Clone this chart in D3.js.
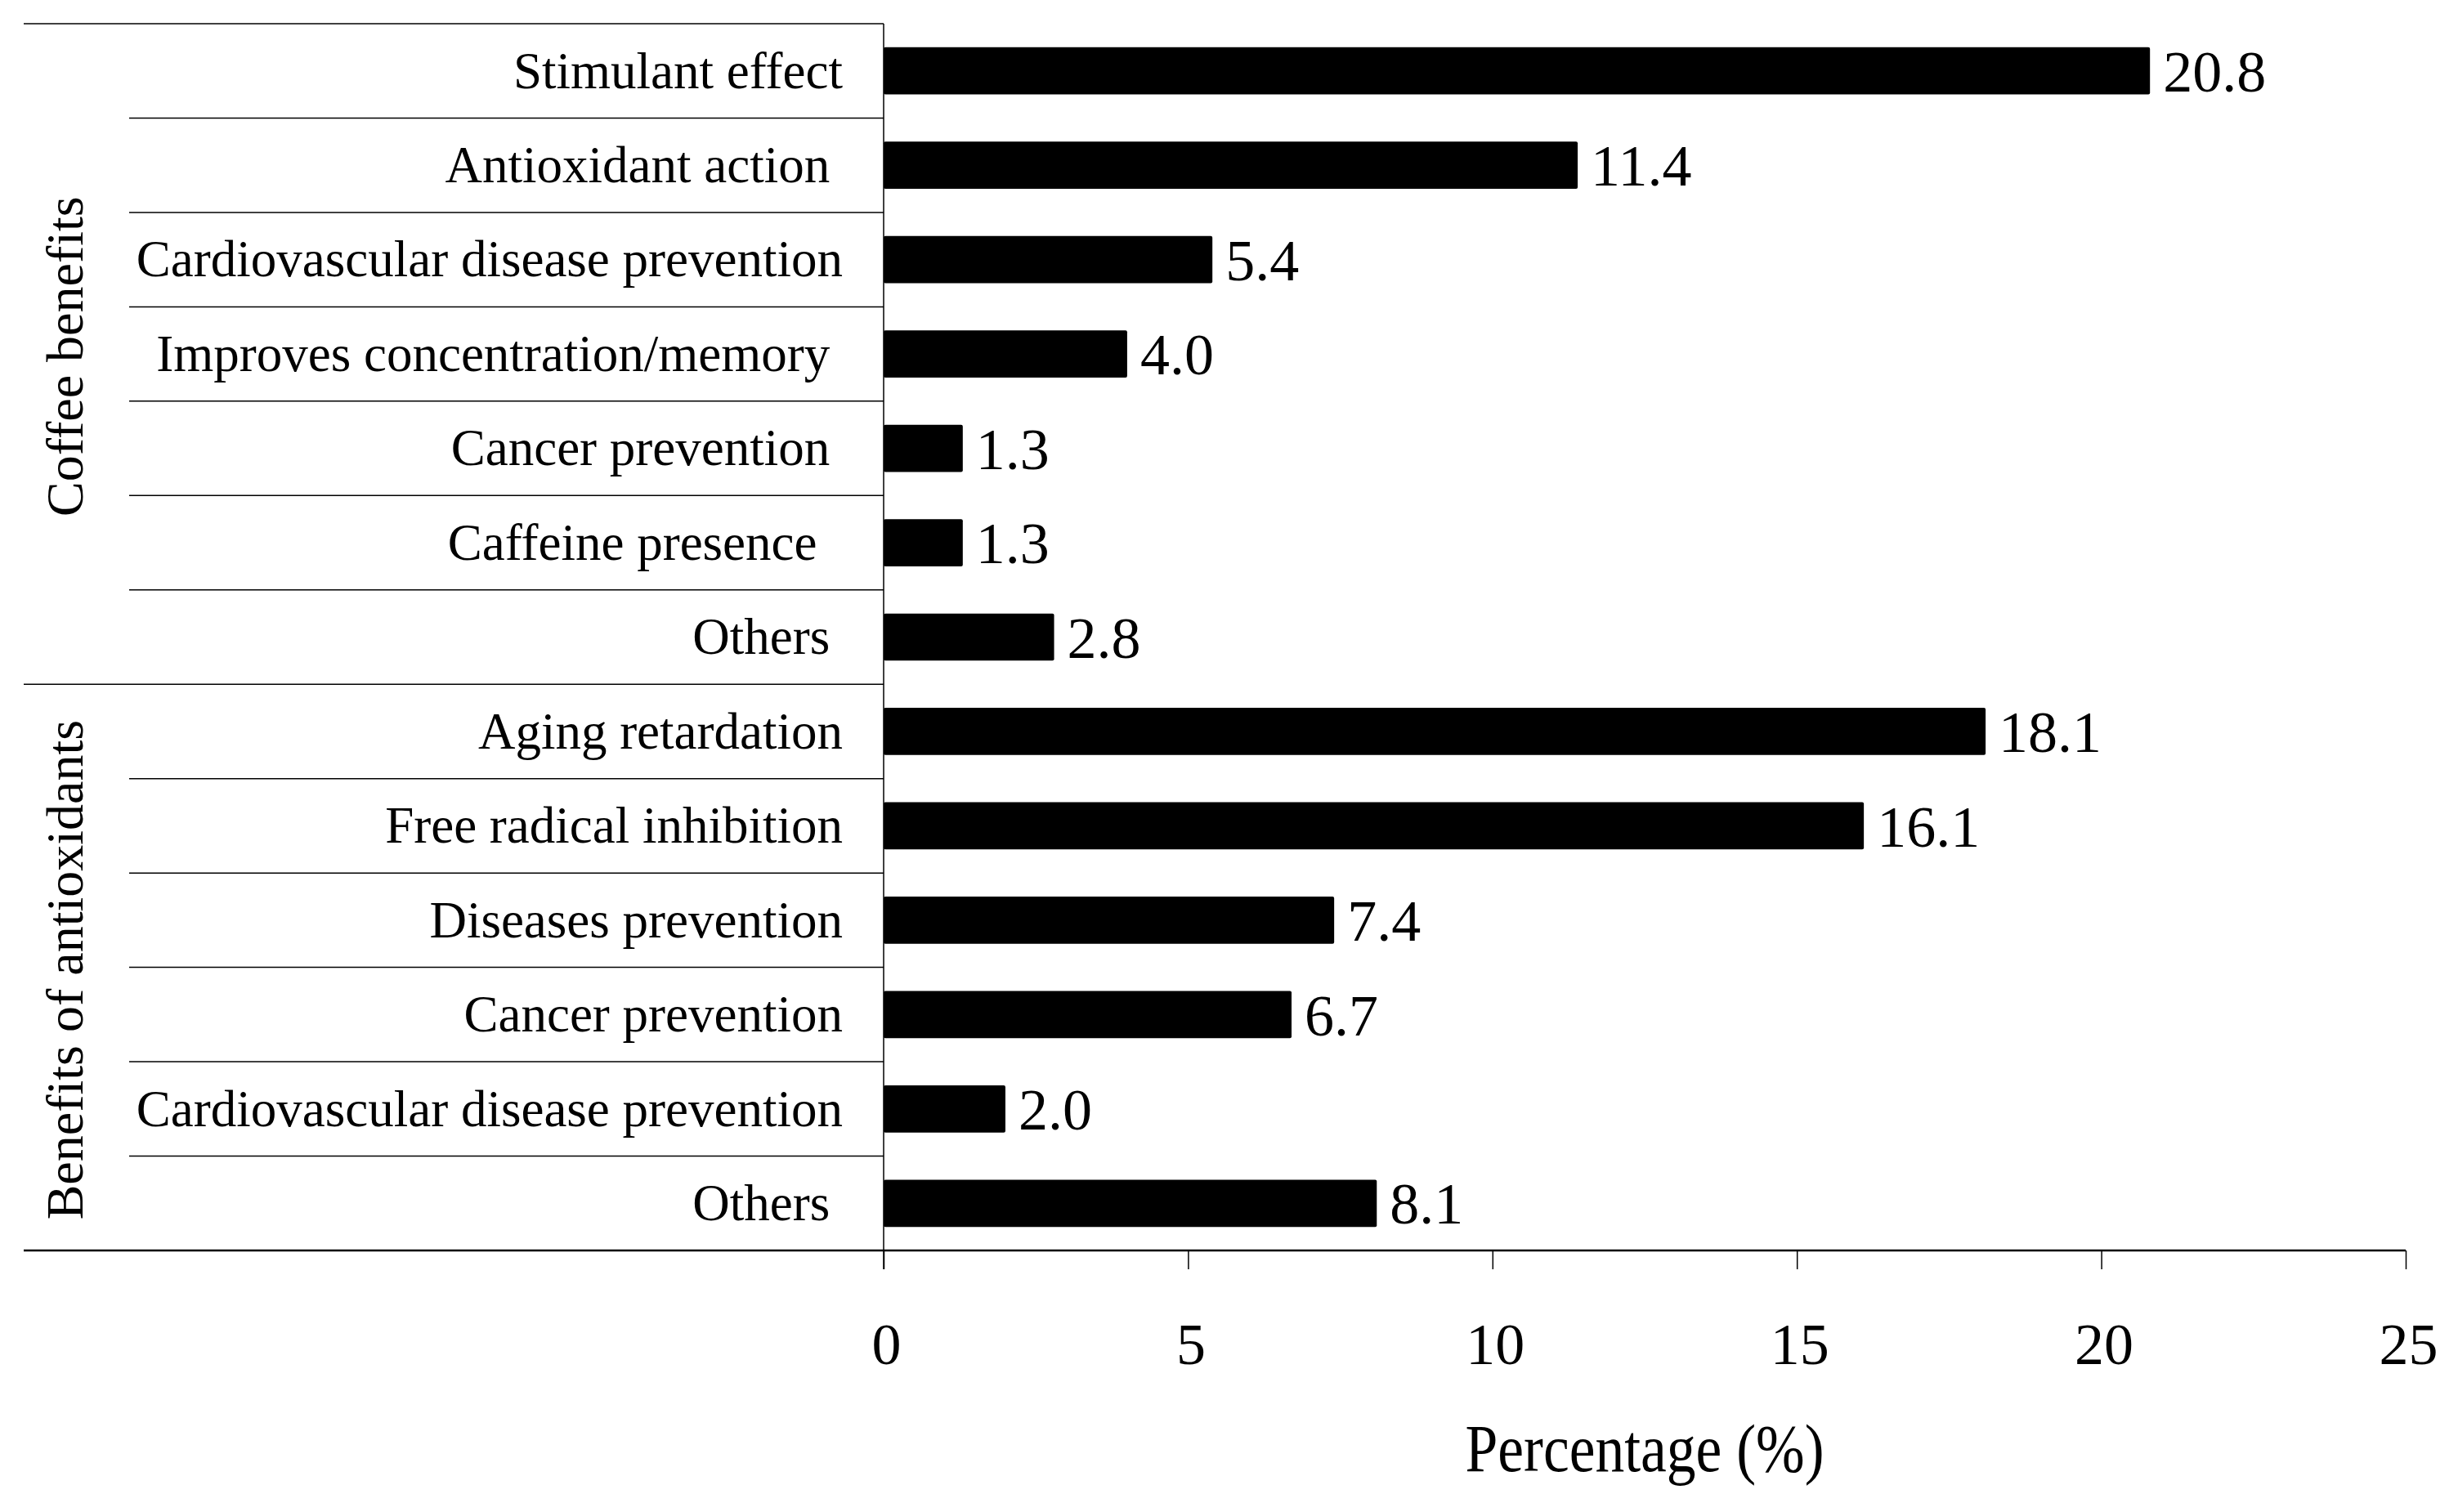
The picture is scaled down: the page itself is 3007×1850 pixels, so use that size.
<!DOCTYPE html>
<html>
<head>
<meta charset="utf-8">
<script src="https://cdn.jsdelivr.net/npm/d3@7"></script>
<style>
  body { margin: 0; background: #fff; }
  text { font-family: "Liberation Serif", "Times New Roman", serif; fill: #000; white-space: pre; }
</style>
</head>
<body>
<svg id="chart" width="3007" height="1850"></svg>
<script>
// group names (left, rotated)
const groups = ["Coffee benefits", "Benefits of antioxidants"];

// categories, top to bottom (trailing spaces are kept as in the source)
const coffeeLabels = [
  "Stimulant effect",
  "Antioxidant action ",
  "Cardiovascular disease prevention",
  "Improves concentration/memory ",
  "Cancer prevention ",
  "Caffeine presence  ",
  "Others "
];
const coffeeValues = [20.8, 11.4, 5.4, 4.0, 1.3, 1.3, 2.8];

const antioxLabels = [
  "Aging retardation",
  "Free radical inhibition",
  "Diseases prevention",
  "Cancer prevention",
  "Cardiovascular disease prevention",
  "Others "
];
const antioxValues = [18.1, 16.1, 7.4, 6.7, 2.0, 8.1];

const xTicks = [0, 5, 10, 15, 20, 25];
const xTitle = "Percentage (%)";

// build rows
const rows = [];
coffeeLabels.forEach((l, i) => rows.push({ label: l, value: coffeeValues[i], group: 0 }));
antioxLabels.forEach((l, i) => rows.push({ label: l, value: antioxValues[i], group: 1 }));

const svg = d3.select("#chart");

// layout
const xLeft = 29;       // left edge of outer lines
const sepLeft = 158;    // left edge of row separators
const x0 = 1081;        // value axis zero
const xEnd = 2943;      // 25
const yTop = 29;
const yBottom = 1530;

const x = d3.scaleLinear().domain([0, 25]).range([x0, xEnd]);
const y = d3.scaleBand()
  .domain(d3.range(rows.length))
  .range([yTop, yBottom])
  .paddingInner(0.5)
  .paddingOuter(0.25);

const step = y.step();
const rowTop = i => yTop + i * step;

// top line over the label area
svg.append("line")
  .attr("x1", xLeft).attr("x2", x0)
  .attr("y1", yTop).attr("y2", yTop)
  .attr("stroke", "#000").attr("stroke-width", 1.5);

// separators between rows
d3.range(1, rows.length).forEach(i => {
  const isGroup = rows[i].group !== rows[i - 1].group;
  svg.append("line")
    .attr("x1", isGroup ? xLeft : sepLeft).attr("x2", x0)
    .attr("y1", rowTop(i)).attr("y2", rowTop(i))
    .attr("stroke", "#000").attr("stroke-width", 1.5);
});

// bars
svg.append("g").selectAll("rect")
  .data(rows)
  .join("rect")
  .attr("x", x(0))
  .attr("y", (d, i) => y(i))
  .attr("width", d => x(d.value) - x(0))
  .attr("height", y.bandwidth())
  .attr("rx", 2)
  .attr("fill", "#000");

// value labels
svg.append("g").selectAll("text")
  .data(rows)
  .join("text")
  .attr("x", d => x(d.value) + 16)
  .attr("y", (d, i) => y(i) + y.bandwidth() / 2)
  .attr("dy", "0.35em")
  .attr("font-size", 72)
  .text(d => d.value.toFixed(1));

// category labels
svg.append("g").selectAll("text")
  .data(rows)
  .join("text")
  .attr("x", 1031)
  .attr("y", (d, i) => y(i) + y.bandwidth() / 2)
  .attr("dy", "0.33em")
  .attr("text-anchor", "end")
  .attr("font-size", 63)
  .text(d => d.label);

// group labels
groups.forEach((g, gi) => {
  const idx = rows.map((r, i) => r.group === gi ? i : -1).filter(i => i >= 0);
  const cy = (rowTop(idx[0]) + rowTop(idx[idx.length - 1] + 1)) / 2 + 3;
  svg.append("text")
    .attr("transform", `translate(101,${cy}) rotate(-90)`)
    .attr("text-anchor", "middle")
    .attr("font-size", 64)
    .text(g);
});

// vertical axis line
svg.append("line")
  .attr("x1", x0).attr("x2", x0)
  .attr("y1", yTop).attr("y2", yBottom + 23)
  .attr("stroke", "#000").attr("stroke-width", 1.5);

// x axis
const xAxis = svg.append("g")
  .attr("transform", `translate(0,${yBottom})`)
  .call(d3.axisBottom(x).tickValues(xTicks).tickSize(23).tickFormat(d3.format("d")));
xAxis.select(".domain").remove();
xAxis.selectAll(".tick line").attr("stroke", "#000").attr("stroke-width", 1.5);
xAxis.selectAll(".tick text")
  .attr("y", 139).attr("dy", null).attr("dx", 3)
  .attr("font-size", 72)
  .attr("font-family", null);

// bottom line
svg.append("line")
  .attr("x1", xLeft).attr("x2", xEnd)
  .attr("y1", yBottom).attr("y2", yBottom)
  .attr("stroke", "#000").attr("stroke-width", 2.5);

// axis title
svg.append("text")
  .attr("x", 2012)
  .attr("y", 1800)
  .attr("text-anchor", "middle")
  .attr("font-size", 82)
  .attr("textLength", 439)
  .attr("lengthAdjust", "spacingAndGlyphs")
  .text(xTitle);
</script>
</body>
</html>
